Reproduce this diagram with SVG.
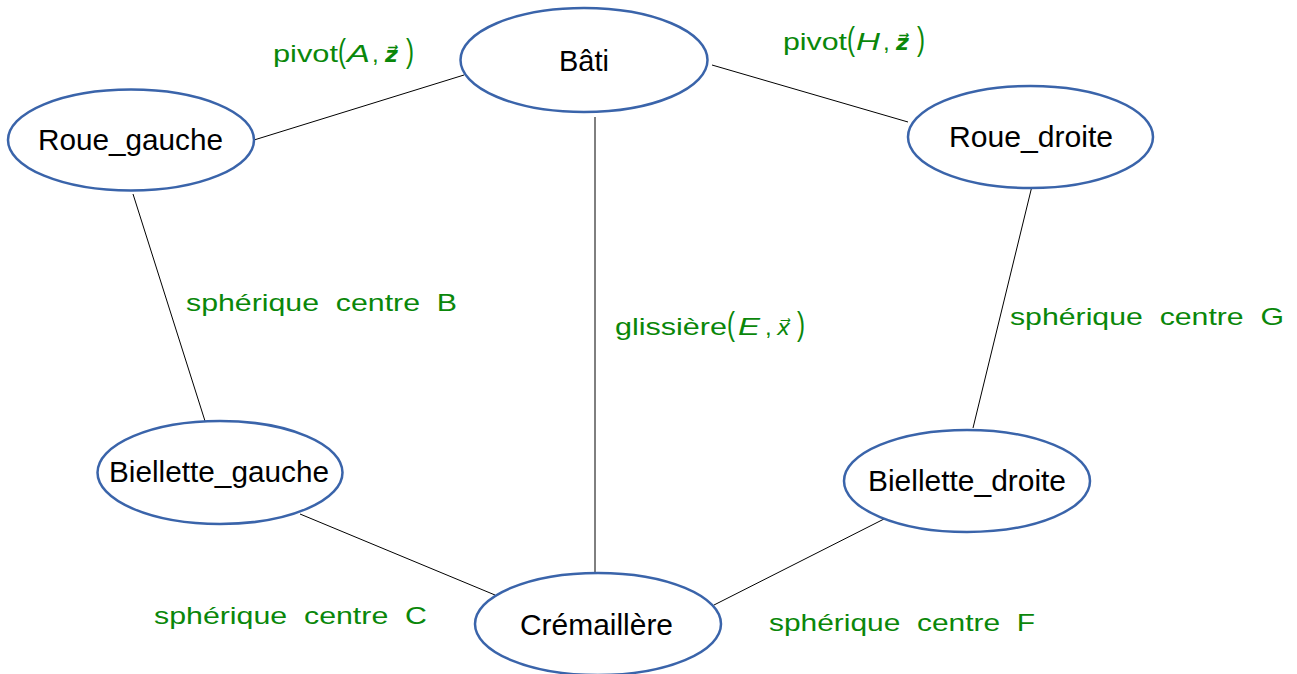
<svg xmlns="http://www.w3.org/2000/svg" width="1297" height="674" viewBox="0 0 1297 674">
<style>
.node ellipse{fill:#fff;stroke:#3A64AA;stroke-width:2.5}
.node text{font-family:"Liberation Sans",Arial,sans-serif;font-size:29px;fill:#000;text-anchor:start}
.lbl{font-family:"Liberation Sans",Arial,sans-serif;font-size:24px;fill:#0A870A;white-space:pre}
.it{font-style:italic}
.vec{font-family:"DejaVu Sans",sans-serif;font-style:italic;font-size:22px}
.vb{font-weight:bold}
#connectors line{stroke:#000;stroke-width:1}
</style>
<rect width="1297" height="674" fill="#fff"/>
<g id="connectors">
<line x1="254" y1="140" x2="464" y2="75"/>
<line x1="712" y1="65" x2="908" y2="122"/>
<line x1="595" y1="117" x2="595" y2="573"/>
<line x1="133" y1="194" x2="205" y2="421"/>
<line x1="1032" y1="186" x2="973" y2="428"/>
<line x1="300" y1="514" x2="495" y2="595"/>
<line x1="884" y1="519" x2="714" y2="605"/>
</g>
<g id="bati" class="node"><ellipse cx="584" cy="60" rx="123.5" ry="52"/><text x="559" y="71" textLength="50" lengthAdjust="spacingAndGlyphs">Bâti</text></g>
<g id="roue_gauche" class="node"><ellipse cx="131" cy="140" rx="123" ry="50.5"/><text x="38" y="150" textLength="185" lengthAdjust="spacingAndGlyphs">Roue_gauche</text></g>
<g id="roue_droite" class="node"><ellipse cx="1030.5" cy="137" rx="122.5" ry="51"/><text x="949" y="147" textLength="164" lengthAdjust="spacingAndGlyphs">Roue_droite</text></g>
<g id="biellette_gauche" class="node"><ellipse cx="220" cy="472.5" rx="122.5" ry="51.5"/><text x="109" y="482" textLength="220" lengthAdjust="spacingAndGlyphs">Biellette_gauche</text></g>
<g id="biellette_droite" class="node"><ellipse cx="967" cy="481" rx="123" ry="51"/><text x="868" y="491" textLength="198" lengthAdjust="spacingAndGlyphs">Biellette_droite</text></g>
<g id="cremaillere" class="node"><ellipse cx="598" cy="624" rx="123" ry="51"/><text x="520" y="635" textLength="153" lengthAdjust="spacingAndGlyphs">Crémaillère</text></g>
<g id="labels">
<text class="lbl" x="273" y="62" textLength="65" lengthAdjust="spacingAndGlyphs">pivot</text>
<text class="lbl" transform="translate(338,62) scale(1,1.35)">(</text>
<text class="lbl it" x="347" y="62" textLength="23" lengthAdjust="spacingAndGlyphs">A</text>
<text class="lbl" x="372" y="62">,</text>
<text class="lbl vec vb" x="385" y="62">z&#x20D7;</text>
<text class="lbl" transform="translate(406,62) scale(1,1.35)">)</text>

<text class="lbl" x="783" y="50" textLength="64" lengthAdjust="spacingAndGlyphs">pivot</text>
<text class="lbl" transform="translate(847,50) scale(1,1.35)">(</text>
<text class="lbl it" x="856" y="50" textLength="24" lengthAdjust="spacingAndGlyphs">H</text>
<text class="lbl" x="883" y="50">,</text>
<text class="lbl vec vb" x="896" y="50">z&#x20D7;</text>
<text class="lbl" transform="translate(917,50) scale(1,1.35)">)</text>

<text class="lbl" x="615" y="335" textLength="112" lengthAdjust="spacingAndGlyphs">glissière</text>
<text class="lbl" transform="translate(727,335) scale(1,1.35)">(</text>
<text class="lbl it" x="738" y="335" textLength="22" lengthAdjust="spacingAndGlyphs">E</text>
<text class="lbl" x="765" y="335">,</text>
<text class="lbl vec" x="777" y="335">x&#x20D7;</text>
<text class="lbl" transform="translate(797,335) scale(1,1.35)">)</text>

<text class="lbl" x="186" y="311" textLength="271" lengthAdjust="spacingAndGlyphs">sphérique  centre  B</text>
<text class="lbl" x="1010" y="325" textLength="274" lengthAdjust="spacingAndGlyphs">sphérique  centre  G</text>
<text class="lbl" x="154" y="624" textLength="273" lengthAdjust="spacingAndGlyphs">sphérique  centre  C</text>
<text class="lbl" x="769" y="631" textLength="266" lengthAdjust="spacingAndGlyphs">sphérique  centre  F</text>
</g>
</svg>
